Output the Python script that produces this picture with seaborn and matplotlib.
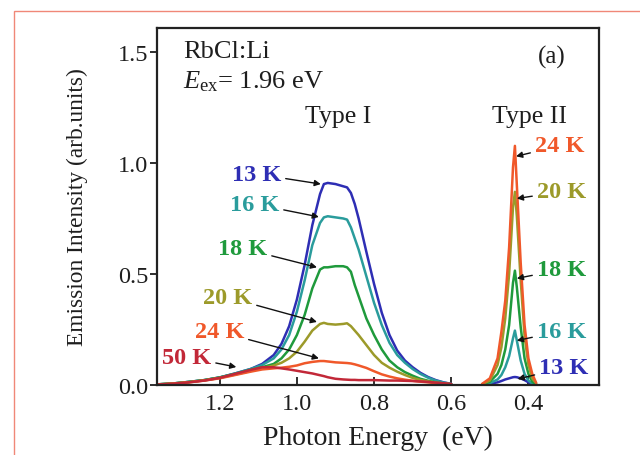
import numpy as np
import pandas as pd
import matplotlib
matplotlib.use("Agg")
import matplotlib.pyplot as plt
from matplotlib.patches import Rectangle
import seaborn as sns

# ---------------- data ----------------
E_type1 = [1.36, 1.32, 1.28, 1.24, 1.20, 1.16, 1.12, 1.09, 1.06, 1.04, 1.02, 1.00,
           0.98, 0.96, 0.94, 0.93, 0.92, 0.90, 0.88, 0.87, 0.86, 0.85, 0.84, 0.82,
           0.80, 0.78, 0.76, 0.74, 0.72, 0.70, 0.68, 0.66, 0.64, 0.62, 0.60]

I1_13K = [0.003, 0.007, 0.014, 0.022, 0.034, 0.052, 0.072, 0.095, 0.135, 0.185, 0.265, 0.385,
          0.54, 0.72, 0.86, 0.905, 0.91, 0.905, 0.895, 0.89, 0.865, 0.815, 0.75, 0.60,
          0.455, 0.325, 0.225, 0.155, 0.11, 0.08, 0.055, 0.036, 0.022, 0.012, 0.005]
I1_16K = [0.003, 0.007, 0.014, 0.022, 0.034, 0.052, 0.072, 0.09, 0.12, 0.16, 0.225, 0.33,
          0.47, 0.63, 0.73, 0.755, 0.76, 0.755, 0.75, 0.745, 0.71, 0.66, 0.61, 0.49,
          0.37, 0.27, 0.19, 0.135, 0.10, 0.072, 0.05, 0.033, 0.02, 0.011, 0.005]
I1_18K = [0.003, 0.007, 0.014, 0.022, 0.034, 0.05, 0.068, 0.08, 0.095, 0.12, 0.16, 0.225,
          0.315, 0.435, 0.52, 0.53, 0.53, 0.535, 0.535, 0.53, 0.51, 0.45, 0.40, 0.30,
          0.225, 0.16, 0.11, 0.08, 0.058, 0.042, 0.028, 0.019, 0.012, 0.007, 0.003]
I1_20K = [0.003, 0.007, 0.013, 0.021, 0.032, 0.047, 0.063, 0.075, 0.088, 0.10, 0.12, 0.15,
          0.195, 0.245, 0.275, 0.28, 0.275, 0.272, 0.275, 0.278, 0.265, 0.245, 0.225, 0.18,
          0.135, 0.10, 0.078, 0.06, 0.045, 0.032, 0.023, 0.016, 0.011, 0.007, 0.003]
I1_24K = [0.002, 0.006, 0.012, 0.02, 0.03, 0.045, 0.06, 0.07, 0.075, 0.078, 0.082, 0.088,
          0.098, 0.104, 0.108, 0.108, 0.106, 0.102, 0.10, 0.099, 0.097, 0.093, 0.088, 0.077,
          0.062, 0.048, 0.038, 0.03, 0.024, 0.019, 0.015, 0.012, 0.008, 0.005, 0.002]
I1_50K = [0.002, 0.006, 0.012, 0.02, 0.032, 0.05, 0.068, 0.08, 0.08, 0.075, 0.07, 0.064,
          0.058, 0.052, 0.044, 0.04, 0.035, 0.028, 0.025, 0.024, 0.023, 0.023, 0.022, 0.022,
          0.022, 0.021, 0.02, 0.02, 0.019, 0.018, 0.016, 0.014, 0.011, 0.008, 0.005]

E_type2 = [0.52, 0.50, 0.48, 0.47, 0.46, 0.45, 0.44, 0.435, 0.43, 0.42, 0.41, 0.40, 0.39, 0.38]
I2_24K = [0.005, 0.03, 0.12, 0.24, 0.38, 0.62, 0.98, 1.077, 0.90, 0.55, 0.27, 0.12, 0.05, 0.01]
I2_20K = [0.004, 0.02, 0.09, 0.17, 0.30, 0.50, 0.80, 0.87, 0.76, 0.47, 0.22, 0.09, 0.03, 0.008]
I2_18K = [0.003, 0.015, 0.05, 0.09, 0.16, 0.27, 0.46, 0.515, 0.44, 0.26, 0.12, 0.05, 0.015, 0.004]
I2_16K = [0.002, 0.008, 0.025, 0.045, 0.08, 0.13, 0.21, 0.245, 0.20, 0.11, 0.05, 0.02, 0.006, 0.002]
I2_13K = [0.002, 0.006, 0.012, 0.018, 0.025, 0.03, 0.035, 0.036, 0.035, 0.03, 0.022, 0.012, 0.005, 0.002]

temps = ["13 K", "16 K", "18 K", "20 K", "24 K", "50 K"]
colors = ["#2e2eb4", "#2a9c9c", "#1f9a3c", "#9c9a2a", "#f0582a", "#c22838"]

type1 = {"13 K": I1_13K, "16 K": I1_16K, "18 K": I1_18K,
         "20 K": I1_20K, "24 K": I1_24K, "50 K": I1_50K}
type2 = {"13 K": I2_13K, "16 K": I2_16K, "18 K": I2_18K,
         "20 K": I2_20K, "24 K": I2_24K}

rows = []
for t, vals in type1.items():
    for e, v in zip(E_type1, vals):
        rows.append((e, v, t, "I"))
for t, vals in type2.items():
    for e, v in zip(E_type2, vals):
        rows.append((e, v, t, "II"))
df = pd.DataFrame(rows, columns=["E", "I", "T", "region"])

# ---------------- style ----------------
sns.set_theme(style="white")
plt.rcParams["font.family"] = ["Liberation Serif", "DejaVu Serif"]
plt.rcParams["mathtext.fontset"] = "custom"
plt.rcParams["mathtext.rm"] = "Liberation Serif"
plt.rcParams["mathtext.it"] = "Liberation Serif:italic"

TXT = "#1e1e1e"

fig = plt.figure(figsize=(6.4, 4.56), dpi=100)
ax = fig.add_axes([0.245, 0.1535, 0.691, 0.783])

pal = dict(zip(temps, colors))
sns.lineplot(data=df, x="E", y="I", hue="T", units="region", estimator=None,
             palette=pal, hue_order=temps, lw=1.8, legend=False, ax=ax)

ax.set_xlim(1.363, 0.217)
ax.set_ylim(0, 1.608)
ax.set_xticks([1.2, 1.0, 0.8, 0.6, 0.4])
ax.set_xticklabels(["1.2", "1.0", "0.8", "0.6", "0.4"])
ax.set_yticks([0.0, 0.5, 1.0, 1.5])
ax.set_yticklabels(["0.0", "0.5", "1.0", "1.5"])
ax.tick_params(axis="x", direction="in", length=6, width=1.3, labelsize=17.5,
               pad=6, colors=TXT, bottom=True)
ax.tick_params(axis="y", direction="out", length=5, width=1.3, labelsize=17.5,
               pad=1, colors=TXT, left=True)
for s in ax.spines.values():
    s.set_color("#222222")
    s.set_linewidth(1.6)

ax.set_xlabel("Photon Energy  (eV)", fontsize=20, color=TXT)
ax.xaxis.set_label_coords(0.5, -0.112)
ax.set_ylabel("Emission Intensity (arb.units)", fontsize=16.8, color=TXT)
ax.yaxis.set_label_coords(-0.155, 0.5)

# text annotations
ax.text(0.06, 0.936, "RbCl:Li", transform=ax.transAxes, fontsize=19,
        ha="left", va="center", color=TXT)
ax.text(0.06, 0.851, r"$E_{\rm ex}$= 1.96 eV", transform=ax.transAxes, fontsize=19,
        ha="left", va="center", color=TXT)
ax.text(0.894, 0.919, "(a)", transform=ax.transAxes, fontsize=18,
        ha="center", va="center", color=TXT)
ax.text(0.41, 0.753, "Type I", transform=ax.transAxes, fontsize=18.5,
        ha="center", va="center", color=TXT)
ax.text(0.842, 0.753, "Type II", transform=ax.transAxes, fontsize=18.5,
        ha="center", va="center", color=TXT)

arrow = dict(arrowstyle="-|>", color="#111111", lw=1.0, mutation_scale=9,
             shrinkA=1, shrinkB=0)

type1_labels = [
    ("13 K", (1.041, 0.95), (0.938, 0.905)),
    ("16 K", (1.046, 0.815), (0.943, 0.757)),
    ("18 K", (1.077, 0.615), (0.948, 0.53)),
    ("20 K", (1.116, 0.395), (0.948, 0.284)),
    ("24 K", (1.137, 0.24), (0.943, 0.12)),
    ("50 K", (1.222, 0.125), (1.157, 0.081)),
]
for t, txt, tip in type1_labels:
    ax.annotate(t, xy=tip, xytext=txt, fontsize=17.5, fontweight="bold",
                color=pal[t], ha="right", va="center", arrowprops=arrow)

type2_labels = [
    ("24 K", (0.383, 1.077), (0.432, 1.03)),
    ("20 K", (0.378, 0.87), (0.430, 0.84)),
    ("18 K", (0.378, 0.52), (0.430, 0.48)),
    ("16 K", (0.378, 0.243), (0.430, 0.20)),
    ("13 K", (0.372, 0.077), (0.428, 0.027)),
]
for t, txt, tip in type2_labels:
    ax.annotate(t, xy=tip, xytext=txt, fontsize=17.5, fontweight="bold",
                color=pal[t], ha="left", va="center", arrowprops=arrow)

# salmon frame around the figure
fig.patches.append(Rectangle((14 / 640, -0.1), 1.2, (456 - 12) / 456 + 0.1,
                             transform=fig.transFigure, fill=False,
                             edgecolor="#f08878", lw=1.0))

fig.savefig("out.png", dpi=100)
